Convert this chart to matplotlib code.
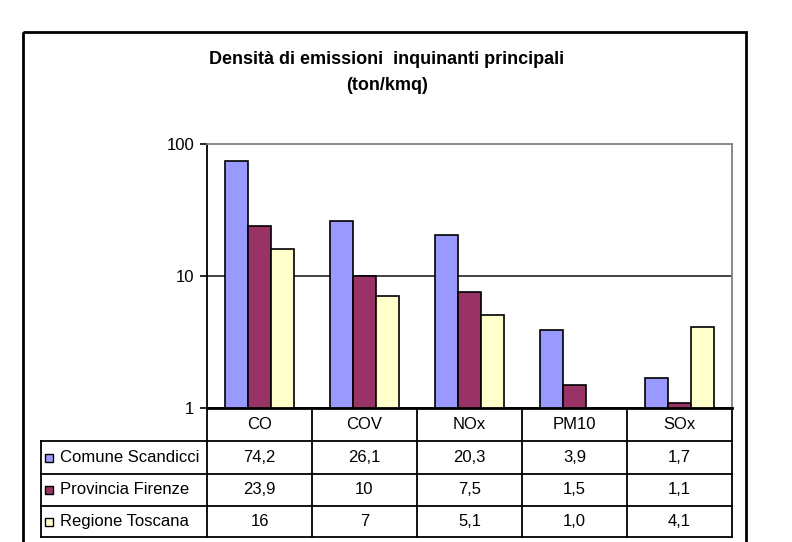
import matplotlib
matplotlib.use("Agg")
import matplotlib.pyplot as plt
from matplotlib.patches import Rectangle
from matplotlib.lines import Line2D

plt.rcParams['font.family'] = ['Liberation Sans', 'DejaVu Sans']

# data
categories = ["CO", "COV", "NOx", "PM10", "SOx"]
series_names = ["Comune Scandicci", "Provincia Firenze", "Regione Toscana"]
scandicci = [74.2, 26.1, 20.3, 3.9, 1.7]
firenze = [23.9, 10, 7.5, 1.5, 1.1]
toscana = [16, 7, 5.1, 1.0, 4.1]
scandicci_lbl = ["74,2", "26,1", "20,3", "3,9", "1,7"]
firenze_lbl = ["23,9", "10", "7,5", "1,5", "1,1"]
toscana_lbl = ["16", "7", "5,1", "1,0", "4,1"]
colors = ["#9999FF", "#993366", "#FFFFCC"]

W, H = 792, 542
fig = plt.figure(figsize=(W / 100, H / 100), dpi=100)

# plot area in pixels
pl, pr, pt, pb = 207, 732, 144, 408
ax = fig.add_axes([pl / W, 1 - pb / H, (pr - pl) / W, (pb - pt) / H])
ax.set_yscale("log")
ax.set_ylim(1, 100)
ax.set_xlim(-0.5, len(categories) - 0.5)

bw = 0.22
for j, vals in enumerate([scandicci, firenze, toscana]):
    xs = [i + (j - 1) * bw for i in range(len(categories))]
    ax.bar(xs, vals, width=bw, color=colors[j], edgecolor="black", linewidth=1.2, zorder=3)

ax.axhline(10, color="#111111", linewidth=1.1, zorder=1)
ax.set_yticks([1, 10, 100])
ax.set_yticklabels(["1", "10", "100"], fontsize=12)
ax.yaxis.set_minor_locator(matplotlib.ticker.NullLocator())
ax.tick_params(axis="y", length=5, width=1.2, pad=4)
ax.set_xticks([])
ax.spines["top"].set_color("#808080")
ax.spines["right"].set_color("#808080")
ax.spines["top"].set_linewidth(1.3)
ax.spines["right"].set_linewidth(1.3)
ax.spines["left"].set_linewidth(1.3)
ax.spines["bottom"].set_linewidth(2)

# overlay for frame and title (pixel coords)
ov = fig.add_axes([0, 0, 1, 1], zorder=-1)
ov.set_xlim(0, W)
ov.set_ylim(H, 0)
ov.axis("off")
ov.add_patch(Rectangle((23, 32), 746 - 23, 560 - 32, fill=False, edgecolor="black", linewidth=2))

ov.text(387, 59, "Densità di emissioni  inquinanti principali", ha="center", va="center",
        fontsize=13, fontweight="bold")
ov.text(387, 85, "(ton/kmq)", ha="center", va="center", fontsize=13, fontweight="bold")

# data table
col_w = (pr - pl) / len(categories)
col_x = [pl + i * col_w for i in range(len(categories) + 1)]
row_y = [408, 441, 474, 506, 537]
leg_x = 41
lw = 1.3
ov2 = fig.add_axes([0, 0, 1, 1], zorder=5)
ov2.set_xlim(0, W)
ov2.set_ylim(H, 0)
ov2.axis("off")
ov2.patch.set_alpha(0)
for x in col_x:
    ov2.add_line(Line2D([x, x], [row_y[0], row_y[-1]], color="black", linewidth=lw))
ov2.add_line(Line2D([leg_x, leg_x], [row_y[1], row_y[-1]], color="black", linewidth=lw))
for k, y in enumerate(row_y):
    x0 = pl if k == 0 else leg_x
    ov2.add_line(Line2D([x0, pr], [y, y], color="black", linewidth=lw))

for i, cat in enumerate(categories):
    cx = (col_x[i] + col_x[i + 1]) / 2
    ov2.text(cx, (row_y[0] + row_y[1]) / 2, cat, ha="center", va="center", fontsize=12)

for r, (name, lbls) in enumerate(zip(series_names, [scandicci_lbl, firenze_lbl, toscana_lbl])):
    cy = (row_y[r + 1] + row_y[r + 2]) / 2
    ov2.add_patch(Rectangle((45, cy - 4), 8, 8, facecolor=colors[r], edgecolor="black", linewidth=1))
    ov2.text(60, cy, name, ha="left", va="center", fontsize=12)
    for i, t in enumerate(lbls):
        cx = (col_x[i] + col_x[i + 1]) / 2
        ov2.text(cx, cy, t, ha="center", va="center", fontsize=12)

fig.savefig("out.png", dpi=100)
